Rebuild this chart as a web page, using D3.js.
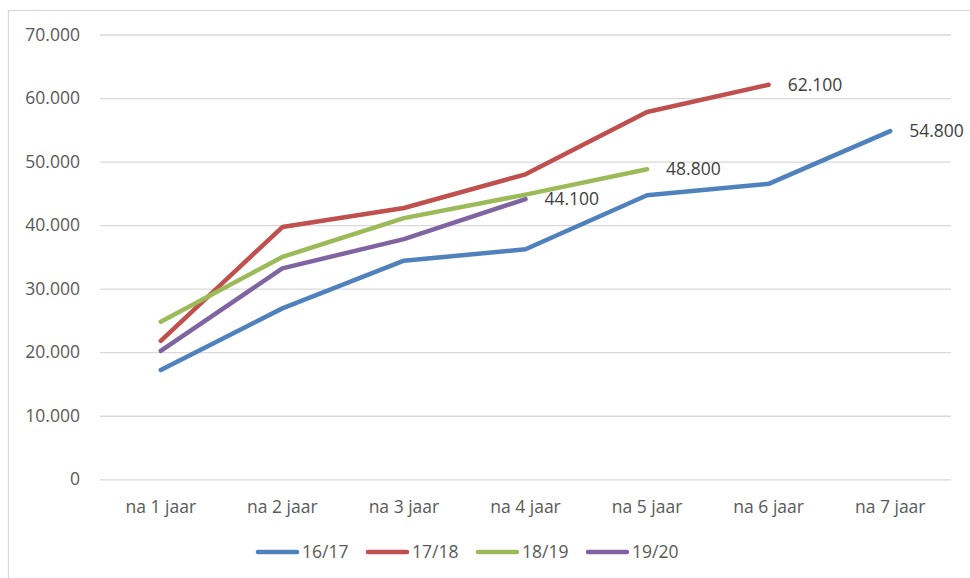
<!DOCTYPE html>
<html>
<head>
<meta charset="utf-8">
<script src="https://cdn.jsdelivr.net/npm/d3@7"></script>
<style>
  body { margin: 0; background: #fff; }
  text { font-family: "Open Sans", sans-serif; fill: #595959; }
  .gridlines line { stroke: #d9d9d9; stroke-width: 1.3; }
  .gridlines path { display: none; }
</style>
</head>
<body>
<svg id="chart" width="970" height="578"></svg>
<script>
    // categories + series
    const categories = ["na 1 jaar", "na 2 jaar", "na 3 jaar", "na 4 jaar", "na 5 jaar", "na 6 jaar", "na 7 jaar"];
    const seriesNames = ["16/17", "17/18", "18/19", "19/20"];
    const values1617 = [17200, 26900, 34400, 36200, 44700, 46500, 54800];
    const values1718 = [21800, 39700, 42700, 48000, 57800, 62100];
    const values1819 = [24800, 35000, 41100, 44800, 48800];
    const values1920 = [20200, 33200, 37800, 44100];
    const yTicks = [0, 10000, 20000, 30000, 40000, 50000, 60000, 70000];
    const colors = ["#4F81BD", "#C0504D", "#9BBB59", "#8064A2"];

    const allSeries = [values1617, values1718, values1819, values1920].map((v, i) => ({
      name: seriesNames[i], values: v, color: colors[i]
    }));

    let svg = d3.select("svg#chart");
    let margin = { top: 34.5, right: 19, bottom: 98.7, left: 100 };
    let chartWidth = 970 - margin.left - margin.right;
    let chartHeight = 578 - margin.top - margin.bottom;
    const fontSize = "17.5px";

    // chart area border (Excel style)
    svg.append("rect")
      .attr("x", 8.5).attr("y", 10.5)
      .attr("width", 980).attr("height", 600)
      .attr("fill", "none").attr("stroke", "#d9d9d9").attr("stroke-width", 1.3);

    const xScale = d3.scalePoint()
      .domain(categories)
      .range([0, chartWidth])
      .padding(0.5);

    const yScale = d3.scaleLinear()
      .domain([0, 70000])
      .range([chartHeight, 0]);

    let g = svg.append("g")
      .attr("transform", "translate(" + margin.left + "," + margin.top + ")");

    // horizontal gridlines
    g.append("g").attr("class", "gridlines")
      .call(d3.axisLeft(yScale).tickValues(yTicks).tickSize(-chartWidth).tickFormat(""));

    // y labels, Dutch thousands separator
    const fmt = d => d === 0 ? "0" : d3.format(",")(d).replace(/,/g, ".");
    g.selectAll("text.ylab").data(yTicks).enter().append("text")
      .attr("class", "ylab")
      .attr("x", -20)
      .attr("y", d => yScale(d))
      .attr("dy", "0.35em")
      .attr("text-anchor", "end")
      .style("font-size", fontSize)
      .text(fmt);

    // x labels
    g.selectAll("text.xlab").data(categories).enter().append("text")
      .attr("class", "xlab")
      .attr("x", d => xScale(d))
      .attr("y", chartHeight + 28)
      .attr("dy", "0.35em")
      .attr("text-anchor", "middle")
      .style("font-size", fontSize)
      .text(d => d);

    const line = d3.line()
      .x((d, i) => xScale(categories[i]))
      .y(d => yScale(d));

    allSeries.forEach(s => {
      g.append("path")
        .datum(s.values)
        .attr("d", line)
        .attr("fill", "none")
        .attr("stroke", s.color)
        .attr("stroke-width", 4.5)
        .attr("stroke-linejoin", "round")
        .attr("stroke-linecap", "round");

      // label at the last point
      let last = s.values.length - 1;
      g.append("text")
        .attr("x", xScale(categories[last]) + 19)
        .attr("y", yScale(s.values[last]))
        .attr("dy", "0.35em")
        .style("font-size", fontSize)
        .style("fill", "#404040")
        .text(fmt(s.values[last]));
    });

    // legend
    let legend = svg.append("g").attr("transform", "translate(256,552)");
    allSeries.forEach((s, i) => {
      let item = legend.append("g").attr("transform", "translate(" + (i * 110) + ",0)");
      item.append("line")
        .attr("x1", 2).attr("x2", 41)
        .attr("stroke", s.color)
        .attr("stroke-width", 4.5)
        .attr("stroke-linecap", "round");
      item.append("text")
        .attr("x", 46)
        .attr("dy", "0.35em")
        .style("font-size", fontSize)
        .text(s.name);
    });
</script>
</body>
</html>
